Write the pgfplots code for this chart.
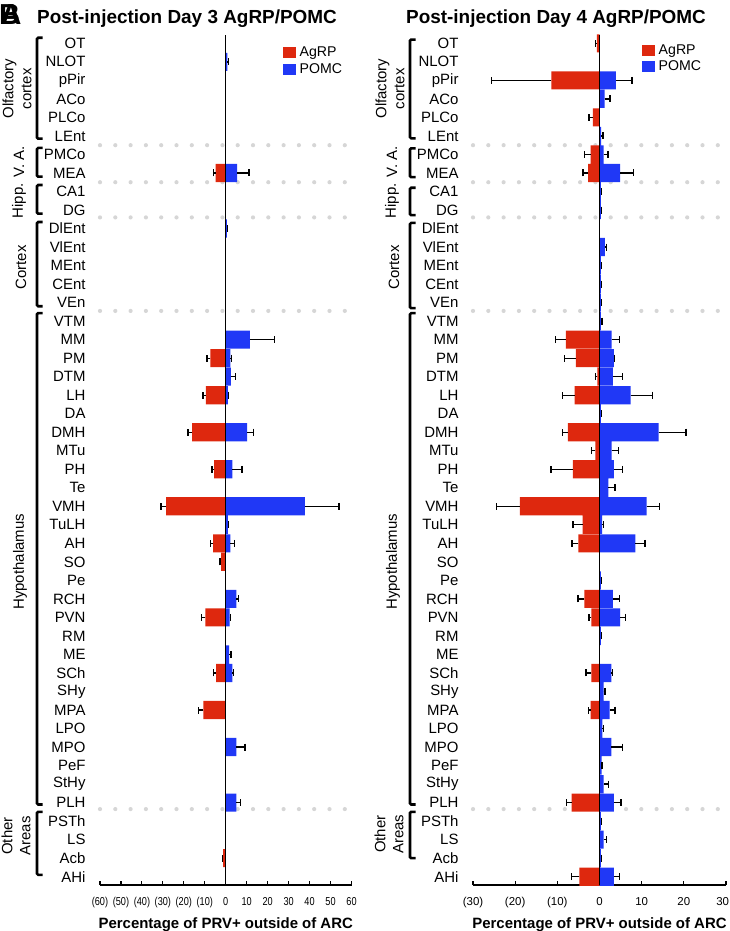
\documentclass[border=0pt]{standalone}
\usepackage{pgfplots}
\pgfplotsset{compat=1.18}
\usepackage{pgfplotstable}
\usepackage{graphicx}
\usepackage{fontspec}
\setmainfont{Liberation Sans}

\definecolor{agrp}{RGB}{222,40,14}
\definecolor{pomc}{RGB}{32,56,246}
\definecolor{sepdot}{RGB}{214,214,214}

% Row index: 0 = OT (top) ... 45 = AHi (bottom); val = mean %, err = SEM
\pgfplotstableread{
row val err
7  -4.8  0.9
17 -7.3  1.6
19 -9.5  1.3
21 -16.1 1.9
23 -5.6  0.9
25 -28.5 2.4
27 -6.0  1.2
28 -2.2  0.5
31 -9.7  1.8
34 -4.6  1.1
36 -10.7 2.2
44 -1.3  0.4
}\agrpDayThree

\pgfplotstableread{
row val err
1  0.8  0.4
7  5.4  5.7
10 0.5  0.3
16 11.5 11.9
17 2.2  0.5
18 2.4  2.2
19 1.0  0.3
21 10.2 3.2
23 3.2  4.6
25 37.7 16.4
26 1.0  0.4
27 2.2  1.9
30 5.1  0.9
31 1.9  0.3
33 1.6  0.9
34 3.2  0.5
38 5.1  4.1
41 5.1  1.9
}\pomcDayThree

\pgfplotstableread{
row val err
0  -0.6  0.3
2  -11.4 14.2
4  -1.6  0.9
6  -2.1  1.5
7  -2.7  1.2
16 -8.0  2.5
17 -5.6  2.7
18 -0.5  0.4
19 -5.9  2.8
21 -7.5  1.2
22 -1.0  0.9
23 -6.3  5.2
25 -18.9 5.6
26 -4.0  2.3
27 -5.0  1.5
30 -3.6  1.5
31 -1.9  0.6
34 -1.9  1.3
36 -2.1  0.5
41 -6.6  1.3
45 -4.8  1.8
}\agrpDayFour

\pgfplotstableread{
row val err
2  3.9  3.8
3  1.2  1.3
5  0.4  0.4
6  1.0  1.0
7  4.9  3.2
8  0.3  0.1
9  0.3  0.1
11 1.3  0.3
12 0.3  0.1
13 0.3  0.1
14 0.3  0.1
15 0.3  0.3
16 2.9  1.9
17 3.4  0.2
18 3.2  2.2
19 7.4  5.2
20 0.3  0.2
21 14.0 6.5
22 2.9  1.6
23 3.4  2.1
24 2.1  1.6
25 11.2 3.1
26 0.6  0.4
27 8.5  2.3
29 0.3  0.1
30 3.2  1.5
31 4.9  1.2
32 0.3  0.1
34 2.8  0.2
35 1.0  0.3
36 2.4  1.3
37 0.7  0.3
38 2.8  2.7
39 0.5  0.1
40 1.0  1.1
41 3.4  1.7
42 0.3  0.1
43 1.0  0.7
44 0.3  0.1
45 3.4  1.3
}\pomcDayFour

\newcommand\cl[1]{\scalebox{0.8}[1]{#1}}
\newcommand\rowy[1]{(887.7-18.52*(#1))*1bp}
% bracket: x position, top row, bottom row
\newcommand\bracket[3]{%
  \draw[line width=2.6bp, rounded corners=1.2bp]
    ({#1+5.5bp},{\rowy{#2}}) -- ({#1},{\rowy{#2}}) --
    ({#1},{\rowy{#3}}) -- ({#1+5.5bp},{\rowy{#3}});}
\newcommand\grouplabel[3]{%
  \node[rotate=90, align=center, font=\fontsize{15}{18}\selectfont] at (#1,{\rowy{#2}}) {#3};}

\pgfplotsset{
  panel/.style={
    anchor=south west, scale only axis, height=850bp,
    ymin=-0.45, ymax=45.45, y dir=reverse,
    enlargelimits=false, clip=false,
    axis x line*=bottom, axis y line*=left,
    y axis line style={draw=none}, ytick style={draw=none},
    x axis line style={black, line width=1.1bp},
    xtick align=inside, major tick length=4bp,
    xtick style={black, line width=1.1bp},
    ytick={0,...,45},
    yticklabels={OT,NLOT,pPir,ACo,PLCo,LEnt,PMCo,MEA,CA1,DG,DlEnt,VlEnt,MEnt,CEnt,VEn,VTM,MM,PM,DTM,LH,DA,DMH,MTu,PH,Te,VMH,TuLH,AH,SO,Pe,RCH,PVN,RM,ME,SCh,SHy,MPA,LPO,MPO,PeF,StHy,PLH,PSTh,LS,Acb,AHi},
    yticklabel style={font=\fontsize{15}{18}\selectfont, anchor=east, xshift=-11bp},
    xticklabel style={font=\fontsize{11.5}{13}\selectfont, yshift=-9bp},
    /pgf/number format/assume math mode=true,
    xlabel={Percentage of PRV+ outside of ARC},
    xlabel style={font=\bfseries\fontsize{15}{18}\selectfont, at={(axis description cs:0.5,0)}, anchor=center, yshift=-40bp},
    legend style={draw=none, fill=none, anchor=north west, inner sep=0pt,
      font=\fontsize{14.2}{16}\selectfont, row sep=3bp, column sep=2.5bp,
      nodes={inner sep=1bp}},
    legend cell align=left,
    legend image code/.code={\fill[##1] (0bp,-5.5bp) rectangle (13bp,5.5bp);},
  },
  errs/.style={
    error bars/.cd, x explicit, x dir=#1, error mark={|},
    error bar style={black, line width=1.3bp},
    error mark options={black, line width=1.3bp, mark size=3.5bp}},
  barA/.style={xbar, bar width=0.98, bar shift=0pt, fill=agrp, draw=none,
    errs=minus},
  barP/.style={xbar, bar width=0.98, bar shift=0pt, fill=pomc, draw=none,
    errs=plus},
  sep/.style={sepdot, line width=4.2bp, line cap=round, dash pattern=on 0pt off 15.3bp, forget plot},
}

\begin{document}
\begin{tikzpicture}
\useasboundingbox (0,0) rectangle (730bp,931bp);

% panel labels and titles
\node[anchor=base west, font=\bfseries\fontsize{29}{30}\selectfont, inner sep=0pt] at (-1bp,906bp) {B};
\node[anchor=base west, font=\bfseries\fontsize{29}{30}\selectfont, inner sep=0pt] at (0.5bp,906bp) {A};
\node[anchor=base, font=\bfseries\fontsize{19}{22}\selectfont, inner sep=0pt] at (187bp,907bp) {Post-injection Day 3 AgRP/POMC};
\node[anchor=base, font=\bfseries\fontsize{19}{22}\selectfont, inner sep=0pt] at (556bp,907bp) {Post-injection Day 4 AgRP/POMC};

% ---------- Day 3 ----------
\begin{axis}[panel, at={(100bp,46bp)}, width=251.5bp,
  xmin=-60, xmax=60, xtick={-60,-50,...,60},
  xticklabels={\cl{(60)},\cl{(50)},\cl{(40)},\cl{(30)},\cl{(20)},\cl{(10)},\cl{0},\cl{10},\cl{20},\cl{30},\cl{40},\cl{50},\cl{60}},
  legend style={at={(axis description cs:0.7276,0.987)}}]
\addplot[sep] coordinates {(-60,5.5) (60,5.5)};
\addplot[sep] coordinates {(-60,7.5) (60,7.5)};
\addplot[sep] coordinates {(-60,9.4) (60,9.4)};
\addplot[sep] coordinates {(-60,14.45) (60,14.45)};
\addplot[sep] coordinates {(-60,41.35) (60,41.35)};
\addplot[barA] table[x=val, y=row, x error=err] {\agrpDayThree};
\addplot[barP] table[x=val, y=row, x error=err] {\pomcDayThree};
\addplot[black, line width=1.3bp, forget plot] coordinates {(0,-0.45) (0,45.45)};
\legend{AgRP, POMC}
\end{axis}

% ---------- Day 4 ----------
\begin{axis}[panel, at={(473bp,46bp)}, width=253bp,
  xmin=-30, xmax=30, xtick={-30,-20,...,30},
  xticklabels={(30),(20),(10),0,10,20,\makebox[6bp][r]{30}},
  legend style={at={(axis description cs:0.668,0.99)}}]
\addplot[sep] coordinates {(-30,5.5) (30,5.5)};
\addplot[sep] coordinates {(-30,7.5) (30,7.5)};
\addplot[sep] coordinates {(-30,9.4) (30,9.4)};
\addplot[sep] coordinates {(-30,14.45) (30,14.45)};
\addplot[sep] coordinates {(-30,41.35) (30,41.35)};
\addplot[barA] table[x=val, y=row, x error=err] {\agrpDayFour};
\addplot[barP] table[x=val, y=row, x error=err] {\pomcDayFour};
\addplot[black, line width=1.3bp, forget plot] coordinates {(0,-0.45) (0,45.45)};
\legend{AgRP, POMC}
\end{axis}

% region groupings, Day 3
\bracket{37bp}{-0.3}{5.15}
\bracket{37bp}{5.65}{7.2}
\bracket{37bp}{7.65}{9.2}
\bracket{37bp}{9.65}{14.2}
\bracket{37bp}{14.57}{41.1}
\bracket{37bp}{41.5}{44.9}
\grouplabel{17bp}{2.45}{Olfactory\\cortex}
\grouplabel{19bp}{6.4}{V. A.}
\grouplabel{19bp}{8.5}{Hipp.}
\grouplabel{21bp}{12.1}{Cortex}
\grouplabel{20bp}{28}{Hypothalamus}
\grouplabel{16bp}{42.8}{Other\\Areas}

% region groupings, Day 4
\bracket{410bp}{-0.2}{5.13}
\bracket{410bp}{5.67}{7.23}
\bracket{410bp}{7.8}{9.28}
\bracket{410bp}{9.7}{14.3}
\bracket{410bp}{14.57}{41.1}
\bracket{410bp}{41.5}{44.0}
\grouplabel{390bp}{2.45}{Olfactory\\cortex}
\grouplabel{392bp}{6.4}{V. A.}
\grouplabel{392bp}{8.5}{Hipp.}
\grouplabel{394bp}{12.1}{Cortex}
\grouplabel{393bp}{28}{Hypothalamus}
\grouplabel{389bp}{42.7}{Other\\Areas}
\end{tikzpicture}
\end{document}
